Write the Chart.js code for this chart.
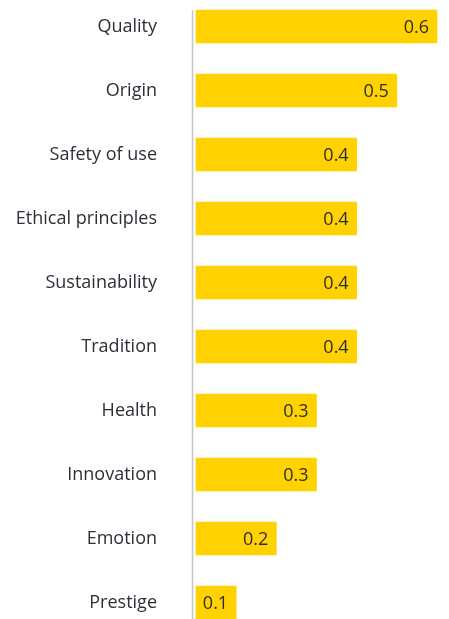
<!DOCTYPE html>
<html>
<head>
<meta charset="utf-8">
<script src="https://cdn.jsdelivr.net/npm/chart.js@4"></script>
<style>
  html, body { margin: 0; padding: 0; background: #fff; overflow: hidden; }
  #wrap { width: 449px; height: 619px; position: relative; }
</style>
</head>
<body>
<div id="wrap"><canvas id="chart"></canvas></div>
<script>
const categories = ['Quality', 'Origin', 'Safety of use', 'Ethical principles', 'Sustainability',
  'Tradition', 'Health', 'Innovation', 'Emotion', 'Prestige'];
const scores = [0.6, 0.5, 0.4, 0.4, 0.4, 0.4, 0.3, 0.3, 0.2, 0.1];

const BAR = 33;
const TEXT = '#2e2e38';
const FONT = { family: '"Open Sans", sans-serif', size: 18 };

// value written inside the end of each bar
const valueLabels = {
  id: 'valueLabels',
  afterDatasetsDraw(chart) {
    const ctx = chart.ctx;
    const meta = chart.getDatasetMeta(0);
    ctx.save();
    ctx.font = `${FONT.size}px ${FONT.family}`;
    ctx.fillStyle = TEXT;
    ctx.textAlign = 'right';
    ctx.textBaseline = 'middle';
    meta.data.forEach((bar, i) => {
      ctx.fillText(scores[i].toFixed(1), bar.x - 8, bar.y + 1);
    });
    ctx.restore();
  }
};

// thin grey baseline to the left of the bars, running past the last bar
const baseline = {
  id: 'baseline',
  beforeDatasetsDraw(chart) {
    const ctx = chart.ctx;
    const y = chart.scales.y;
    const x0 = chart.scales.x.getPixelForValue(0) - 3.5;
    ctx.save();
    ctx.strokeStyle = '#c6c6c6';
    ctx.lineWidth = 1.5;
    ctx.beginPath();
    ctx.moveTo(x0, y.getPixelForValue(0) - BAR / 2);
    ctx.lineTo(x0, chart.height);
    ctx.stroke();
    ctx.restore();
  }
};

new Chart(document.getElementById('chart'), {
  type: 'bar',
  data: {
    labels: categories,
    datasets: [{
      data: scores,
      backgroundColor: '#ffd200',
      borderWidth: 0,
      barThickness: BAR,
      clip: false
    }]
  },
  options: {
    indexAxis: 'y',
    responsive: true,
    maintainAspectRatio: false,
    animation: false,
    layout: { padding: { top: 26.5, bottom: 16.5, right: 12, left: 0 } },
    plugins: { legend: { display: false }, tooltip: { enabled: false } },
    scales: {
      x: {
        display: false,
        min: 0,
        max: 0.6
      },
      y: {
        offset: false,
        afterFit(scale) {
          scale.width = 196;
          scale.paddingTop = 0;
          scale.paddingBottom = 0;
        },
        border: { display: false },
        grid: { display: false, drawTicks: false },
        ticks: { color: TEXT, font: FONT, padding: 39 }
      }
    }
  },
  plugins: [baseline, valueLabels]
});
</script>
</body>
</html>
